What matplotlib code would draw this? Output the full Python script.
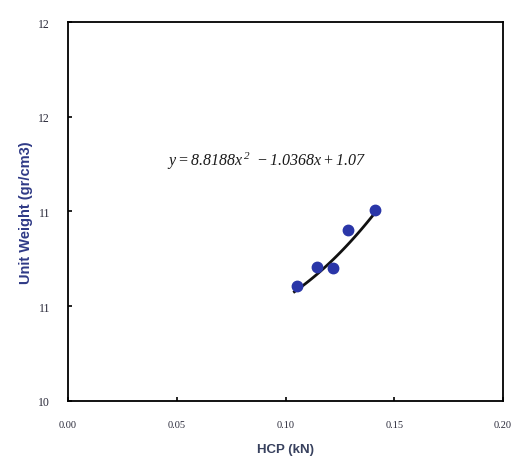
import numpy as np
import matplotlib
matplotlib.use("Agg")
import matplotlib.pyplot as plt

plt.rcParams["mathtext.fontset"] = "custom"
plt.rcParams["mathtext.rm"] = "Liberation Serif:italic"
plt.rcParams["mathtext.it"] = "Liberation Serif:italic"

# measured points
hcp = [0.1051, 0.1143, 0.1219, 0.1288, 0.1411]
unit_weight = [1.0607, 1.0709, 1.0700, 1.0902, 1.1008]

# quadratic trendline coefficients (a x^2 + b x + c)
coef = [8.8188, -1.0368, 1.07]

x_ticks = [0.00, 0.05, 0.10, 0.15, 0.20]
x_tick_labels = ["0.00", "0.05", "0.10", "0.15", "0.20"]
y_ticks = [1.00, 1.05, 1.10, 1.15, 1.20]
y_tick_labels = ["10", "11", "11", "12", "12"]

fig = plt.figure(figsize=(5.16, 4.6), dpi=100)
ax = fig.add_axes([68 / 516, 1 - 402 / 460, 435 / 516, 379 / 460])

xs = np.linspace(min(hcp) - 0.001, max(hcp) + 0.001, 100)
ax.plot(xs, np.polyval(coef, xs), color="#111111", lw=2.0, zorder=2)
ax.plot(hcp, unit_weight, "o", color="#2a36a8", ms=7.5, mec="#2a36a8", zorder=3)

ax.set_xlim(0, 0.2)
ax.set_ylim(1.0, 1.2)
ax.set_xticks(x_ticks)
ax.set_xticklabels(x_tick_labels, family="Liberation Serif", fontsize=7.5, color="#2a2a3a")
ax.set_yticks(y_ticks)
ax.set_yticklabels(y_tick_labels, family="Liberation Serif", fontsize=8.5, color="#2a2a3a")
ax.tick_params(direction="in", length=3, width=1.2, pad=14)
ax.tick_params(axis="y", pad=13)
for s in ax.spines.values():
    s.set_linewidth(1.3)

ax.set_xlabel("HCP (kN)", family="Liberation Sans", fontweight="bold", fontsize=9.5,
              color="#38415e", labelpad=10)
ax.set_ylabel("Unit Weight (gr/cm3)", family="Liberation Sans", fontweight="bold", fontsize=10.5,
              color="#2f3a86", labelpad=4)

ax.text(0.0915, 1.1268, r"$y = 8.8188x^{\,2}\ - 1.0368x + 1.07$", ha="center", va="center",
        fontsize=11.5, color="#1a1a1a")

fig.savefig("out.png", dpi=100, facecolor="white")
